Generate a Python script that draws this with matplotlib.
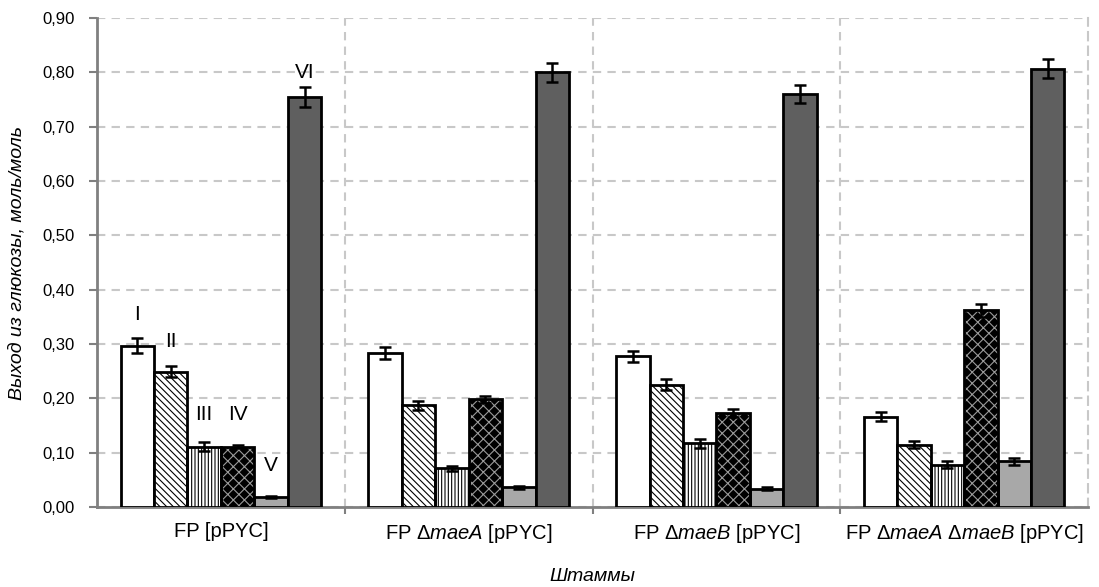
import numpy as np
import matplotlib.pyplot as plt
from matplotlib.ticker import FuncFormatter, MultipleLocator

plt.rcParams['font.family'] = ['Liberation Sans', 'DejaVu Sans']
plt.rcParams['mathtext.fontset'] = 'custom'
plt.rcParams['mathtext.rm'] = 'Liberation Sans'
plt.rcParams['mathtext.it'] = 'Liberation Sans:italic'
plt.rcParams['hatch.linewidth'] = 0.8

# data
strains = ['FP [pPYC]',
           r'FP $\Delta\it{maeA}$ [pPYC]',
           r'FP $\Delta\it{maeB}$ [pPYC]',
           r'FP $\Delta\it{maeA}$ $\Delta\it{maeB}$ [pPYC]']
products = ['I', 'II', 'III', 'IV', 'V', 'VI']
values = [
    [0.297, 0.283, 0.277, 0.166],   # I
    [0.249, 0.187, 0.225, 0.115],   # II
    [0.111, 0.071, 0.117, 0.078],   # III
    [0.111, 0.198, 0.173, 0.362],   # IV
    [0.019, 0.036, 0.034, 0.084],   # V
    [0.755, 0.800, 0.760, 0.807],   # VI
]
errors = [
    [0.014, 0.011, 0.011, 0.008],
    [0.010, 0.008, 0.010, 0.006],
    [0.008, 0.005, 0.008, 0.006],
    [0.003, 0.006, 0.007, 0.012],
    [0.002, 0.003, 0.003, 0.006],
    [0.018, 0.018, 0.017, 0.018],
]

faces = ['white', 'white', 'white', 'black', '#a8a8a8', '#5f5f5f']
hatches = [None, '\\\\\\\\\\', '|||||', 'xxx', None, None]
hatch_cols = ['black', 'black', 'black', '#9a9a9a', 'black', 'black']

fig = plt.figure(figsize=(10.99, 5.87), dpi=100)
ax = fig.add_axes([0.0883, 0.1363, 0.9017, 0.833])

x = np.arange(len(strains))
w = 0.135
for i in range(len(products)):
    pos = x + (i - 2.5) * w
    if hatches[i]:
        ax.bar(pos, values[i], w, color=faces[i], edgecolor=hatch_cols[i],
               hatch=hatches[i], linewidth=0, zorder=3)
        ax.bar(pos, values[i], w, fill=False, edgecolor='black', linewidth=2, zorder=4)
    else:
        ax.bar(pos, values[i], w, color=faces[i], edgecolor='black', linewidth=2, zorder=3)
    ax.errorbar(pos, values[i], yerr=errors[i], fmt='none', ecolor='black',
                elinewidth=1.8, capsize=4, capthick=1.8, zorder=5)

# roman numerals over the first group
lbl_y = [0.355, 0.305, 0.17, 0.17, 0.077, 0.80]
for i, p in enumerate(products):
    ax.text(x[0] + (i - 2.5) * w, lbl_y[i], p, ha='center', va='center', fontsize=15)

ax.set_xlim(-0.5, 3.5)
ax.set_ylim(0, 0.9)
ax.yaxis.set_major_locator(MultipleLocator(0.1))
ax.yaxis.set_major_formatter(FuncFormatter(lambda v, p: f'{v:.2f}'.replace('.', ',')))
ax.set_xticks(x)
ax.set_xticklabels(strains, fontsize=14.5)
ax.set_xticks(np.arange(0.5, 3.5, 1), minor=True)
ax.tick_params(axis='x', which='major', length=0, pad=11)
ax.tick_params(axis='x', which='minor', length=5, color='#808080', width=1.5)
ax.tick_params(axis='y', length=6, color='#808080', width=1.5, labelsize=12, pad=10)

ax.grid(axis='y', linestyle='--', color='#c8c8c8', linewidth=1.5, dashes=(4, 3))
ax.grid(axis='x', which='minor', linestyle='--', color='#c8c8c8', linewidth=1.5, dashes=(4, 3))
ax.set_axisbelow(True)

ax.spines['top'].set_visible(False)
ax.spines['right'].set_color('#c8c8c8')
ax.spines['right'].set_linestyle((0, (4, 3)))
ax.spines['right'].set_linewidth(1.5)
ax.spines['left'].set_color('#808080')
ax.spines['left'].set_linewidth(2)
ax.spines['bottom'].set_color('#808080')
ax.spines['bottom'].set_linewidth(2)

ax.set_ylabel('Выход из глюкозы, моль/моль', fontsize=14, style='italic', labelpad=12)
ax.set_xlabel('Штаммы', fontsize=14, style='italic')
ax.xaxis.set_label_coords(0.5, -0.125)

fig.savefig('out.png', dpi=100)
